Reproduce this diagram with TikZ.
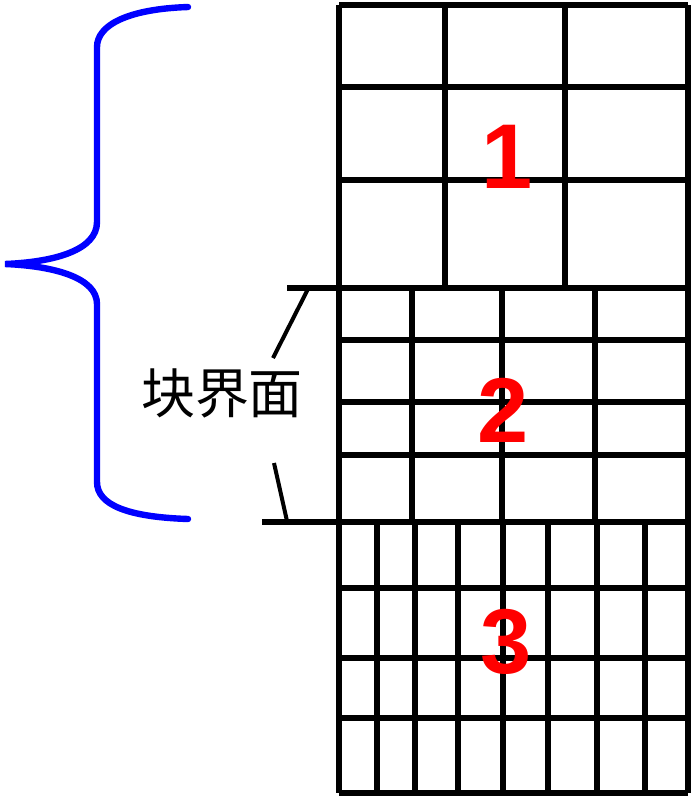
\documentclass[tikz,border=0pt]{standalone}
\usepackage{fontspec}
\newfontfamily\cjk{Noto Sans CJK SC}
\newfontfamily\digitfont{Liberation Sans}
\tikzstyle{grid line}=[draw,line width=3pt]
\tikzstyle{block number}=[text=red,inner sep=0pt,font=\digitfont\bfseries\fontsize{46}{46}\selectfont]
\tikzstyle{interface label}=[inner sep=0pt,font=\cjk\fontsize{27}{27}\selectfont]
\tikzstyle{brace}=[draw,blue,line width=3.2pt,line cap=round]
\tikzstyle{leader}=[draw,line width=2pt]

\begin{document}
\begin{tikzpicture}[x=0.5pt,y=-0.5pt]
\useasboundingbox (0,0) rectangle (692,800);
% block 1
\foreach \x in {445,565}{
  \path[grid line] (\x,5) -- (\x,288);
}
\foreach \y in {5,87,180}{
  \path[grid line] (339,\y) -- (688,\y);
}
% block 2
\foreach \x in {412,502,595}{
  \path[grid line] (\x,288) -- (\x,522);
}
\foreach \y in {340,402,455}{
  \path[grid line] (339,\y) -- (688,\y);
}
% block 3
\foreach \x in {377,415,458,503,548,597,645}{
  \path[grid line] (\x,522) -- (\x,793);
}
\foreach \y in {588,658,718,793}{
  \path[grid line] (339,\y) -- (688,\y);
}
% outer sides and block interfaces
\path[grid line] (339,5) -- (339,793);
\path[grid line] (688,5) -- (688,793);
\path[grid line] (287,288) -- (688,288);
\path[grid line] (262,522) -- (688,522);

\node[block number] (one) at (507,157) {1};
\node[block number] (two) at (503,410) {2};
\node[block number] (three) at (506,642) {3};

\node[interface label] (label) at (222,393) {块界面};
\coordinate (upper) at (308,289);
\coordinate (lower) at (287,521);
\path[leader] (273,358) -- (upper);
\path[leader] (274,463) -- (lower);

\path[brace] (188,7) .. controls (128,9) and (97,25) .. (97,47)
  -- (97,222) .. controls (97,250) and (55,262) .. (5,264)
  .. controls (55,266) and (97,278) .. (97,304)
  -- (97,482) .. controls (97,505) and (128,517) .. (188,519);
\end{tikzpicture}
\end{document}
